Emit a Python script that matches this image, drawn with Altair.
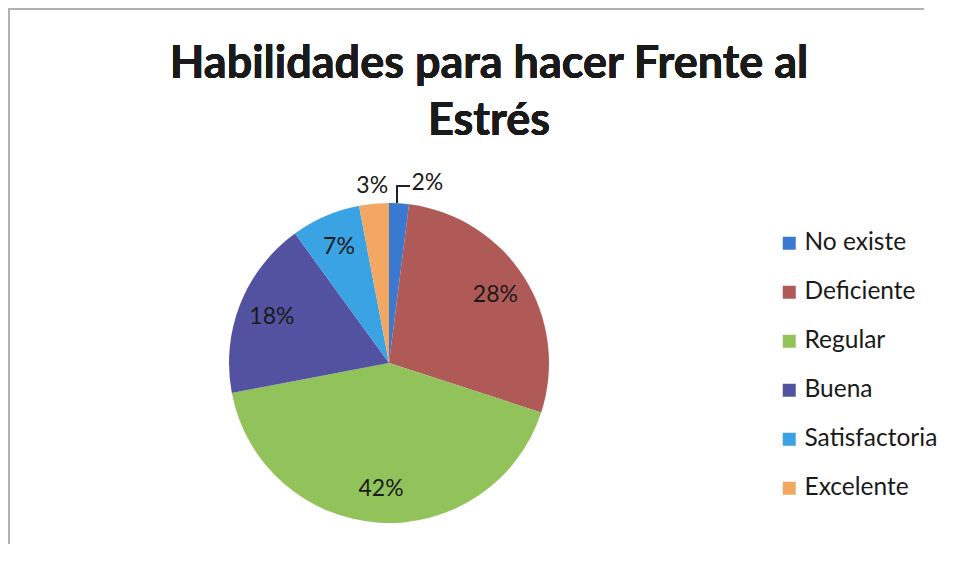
import altair as alt
import pandas as pd

categorias = ["No existe", "Deficiente", "Regular", "Buena", "Satisfactoria", "Excelente"]
valores = [2, 28, 42, 18, 7, 3]
etiquetas = ["2%", "28%", "42%", "18%", "7%", "3%"]
colores = ["#3b78d0", "#b05a58", "#92c35a", "#5352a0", "#3aa3e3", "#f2a862"]
internas = ["Deficiente", "Regular", "Buena", "Satisfactoria"]
titulo = ["Habilidades para hacer Frente al", "Estrés"]

df = pd.DataFrame({
    "categoria": categorias,
    "valor": valores,
    "etiqueta": etiquetas,
    "orden": list(range(len(categorias))),
})

FONT = "Lato"
CX, CY = 381, 355
W, H = 936, 556

base = alt.Chart(df)

pie = base.mark_arc(outerRadius=160, stroke=None).encode(
    x=alt.value(CX),
    y=alt.value(CY),
    theta=alt.Theta("valor:Q", stack=True),
    color=alt.Color(
        "categoria:N",
        scale=alt.Scale(domain=categorias, range=colores),
        sort=categorias,
        legend=alt.Legend(
            title=None,
            orient="none",
            legendX=769,
            legendY=223,
            symbolType="square",
            symbolSize=169,
            symbolStrokeWidth=0,
            labelFont=FONT,
            labelFontSize=24.5,
            labelColor="#1a1a1a",
            labelOffset=3,
            rowPadding=24,
        ),
    ),
    order=alt.Order("orden:Q"),
)

cum = base.transform_window(
    cum="sum(valor)", sort=[alt.SortField("orden")]
).transform_calculate(mid="datum.cum - datum.valor / 2")

theta_mid = alt.Theta("mid:Q", scale=alt.Scale(domain=[0, 100]))

inner = cum.transform_filter(
    alt.FieldOneOfPredicate(field="categoria", oneOf=internas)
).mark_text(radius=126, font=FONT, fontSize=23, color="#1a1a1a").encode(
    x=alt.value(CX), y=alt.value(CY), theta=theta_mid, text="etiqueta:N"
)

outer3 = cum.transform_filter(alt.datum.categoria == "Excelente").mark_text(
    radius=178, font=FONT, fontSize=23, color="#1a1a1a"
).encode(x=alt.value(CX), y=alt.value(CY), theta=theta_mid, text="etiqueta:N")

outer2 = cum.transform_filter(alt.datum.categoria == "No existe").mark_text(
    radius=180, dx=27, font=FONT, fontSize=23, color="#1a1a1a"
).encode(x=alt.value(CX), y=alt.value(CY), theta=theta_mid, text="etiqueta:N")

leader_v = alt.Chart(df).mark_rule(color="#222222", strokeWidth=1.5).encode(
    x=alt.value(389), y=alt.value(195), y2=alt.value(178)
)
leader_h = alt.Chart(df).mark_rule(color="#222222", strokeWidth=1.5).encode(
    x=alt.value(388.25), x2=alt.value(402), y=alt.value(178)
)

titulo1 = alt.Chart(df).mark_text(
    font=FONT, fontSize=45, fontWeight="bold", color="#1a1a1a",
    align="center", baseline="alphabetic",
).encode(x=alt.value(481), y=alt.value(70), text=alt.value(titulo[0]))
titulo2 = alt.Chart(df).mark_text(
    font=FONT, fontSize=45, fontWeight="bold", color="#1a1a1a",
    align="center", baseline="alphabetic",
).encode(x=alt.value(481), y=alt.value(127), text=alt.value(titulo[1]))

borde_sup = alt.Chart(df).mark_rule(color="#b0b0b0", strokeWidth=1.5).encode(
    x=alt.value(0), x2=alt.value(W - 20), y=alt.value(1)
)
borde_izq = alt.Chart(df).mark_rule(color="#b0b0b0", strokeWidth=1.5).encode(
    x=alt.value(1), y=alt.value(0), y2=alt.value(H - 20)
)

chart = alt.layer(
    borde_sup, borde_izq, titulo1, titulo2,
    pie, inner, outer3, outer2, leader_v, leader_h
).resolve_scale(theta="independent").properties(
    width=W,
    height=H,
    padding=0,
    autosize=alt.AutoSizeParams(type="none"),
).configure_view(stroke="transparent", strokeWidth=0)

chart.save("out.html", embed_options={"renderer": "svg", "actions": False})
